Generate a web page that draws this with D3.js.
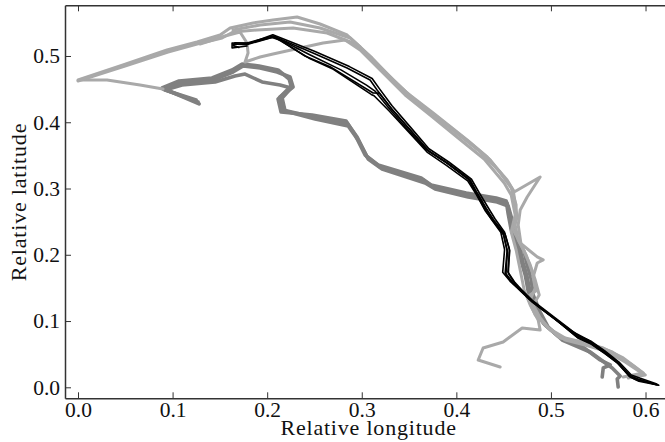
<!DOCTYPE html>
<html>
<head>
<meta charset="utf-8">
<script src="https://cdn.jsdelivr.net/npm/d3@7"></script>
<style>
  body { margin: 0; background: white; }
  svg { display: block; }
</style>
</head>
<body>
<svg id="trackSVG" width="665" height="442"></svg>
<script>
// tick values
var xTicks = [0.0, 0.1, 0.2, 0.3, 0.4, 0.5, 0.6];
var yTicks = [0.0, 0.1, 0.2, 0.3, 0.4, 0.5];

// light gray tracks [lon, lat]
var lightTrack1 = [[0.0899,0.4502],[0.0656,0.4562],[0.0307,0.4638],[0.0000,0.4638],[0.0476,0.4864],[0.0941,0.5091],[0.1259,0.5211],[0.1502,0.5317],[0.1608,0.5423],[0.1851,0.5499],[0.2062,0.5544],[0.2316,0.5589],[0.2559,0.5483],[0.2845,0.5317],[0.2983,0.5136],[0.3194,0.4834],[0.3480,0.4441],[0.3755,0.4140],[0.4114,0.3732],[0.4326,0.3476],[0.4537,0.3129],[0.4601,0.2978],[0.4643,0.2570],[0.4601,0.2374],[0.4675,0.2178],[0.4855,0.1967],[0.4918,0.1922],[0.4855,0.1876],[0.4812,0.1665],[0.4855,0.1468],[0.4749,0.1363],[0.4834,0.1091],[0.4939,0.0940],[0.5098,0.0744],[0.5309,0.0684],[0.5553,0.0593],[0.5764,0.0443],[0.5976,0.0217],[0.5764,0.0156]];
var lightTrack2 = [[0.0000,0.4623],[0.0497,0.4849],[0.0952,0.5060],[0.1259,0.5181],[0.1523,0.5272],[0.1639,0.5362],[0.1893,0.5392],[0.2274,0.5423],[0.2634,0.5347],[0.2908,0.5196],[0.3035,0.5060],[0.3226,0.4789],[0.3511,0.4381],[0.3797,0.4079],[0.4146,0.3687],[0.4358,0.3431],[0.4558,0.3069],[0.4611,0.2948],[0.4886,0.3174],[0.4749,0.2872],[0.4675,0.2676],[0.4654,0.2450],[0.4685,0.2148],[0.4781,0.1846],[0.4834,0.1619],[0.4876,0.1393],[0.4812,0.1242],[0.4886,0.1046],[0.4992,0.0865],[0.5151,0.0714],[0.5362,0.0638],[0.5574,0.0548],[0.5785,0.0382],[0.5944,0.0231]];
var lightTrack3 = [[0.1290,0.5181],[0.1554,0.5302],[0.1713,0.5362],[0.1787,0.5196],[0.1798,0.5045],[0.1766,0.4909],[0.1925,0.4985],[0.2062,0.5030],[0.2348,0.5121],[0.2591,0.5196],[0.2824,0.5242],[0.2983,0.5091],[0.3173,0.4819],[0.3459,0.4411],[0.3723,0.4110],[0.4072,0.3702],[0.4294,0.3446],[0.4506,0.3084],[0.4580,0.2903],[0.4622,0.2601],[0.4580,0.2344],[0.4632,0.2072],[0.4675,0.1770],[0.4717,0.1468],[0.4781,0.1242],[0.4865,0.1016],[0.4886,0.0865],[0.4696,0.0895],[0.4495,0.0684],[0.4283,0.0593],[0.4231,0.0412],[0.4463,0.0307]];
var lightTrack4 = [[0.1639,0.5392],[0.1925,0.5468],[0.2242,0.5513],[0.2559,0.5423],[0.2877,0.5272],[0.3109,0.4970],[0.3353,0.4608],[0.3617,0.4261],[0.3934,0.3913],[0.4231,0.3581],[0.4442,0.3280],[0.4580,0.3009],[0.4632,0.2752],[0.4622,0.2450],[0.4654,0.2223],[0.4738,0.1997],[0.4802,0.1740],[0.4834,0.1499],[0.4781,0.1318],[0.4855,0.1091],[0.4971,0.0895],[0.5151,0.0744],[0.5415,0.0653],[0.5648,0.0533],[0.5859,0.0337],[0.5997,0.0186],[0.5817,0.0141]];

// medium gray tracks
var grayTrack1 = [[0.1269,0.4306],[0.0899,0.4502],[0.1079,0.4592],[0.1428,0.4638],[0.1639,0.4759],[0.1745,0.4849],[0.1925,0.4819],[0.2105,0.4759],[0.2242,0.4683],[0.2274,0.4532],[0.2136,0.4381],[0.2168,0.4185],[0.2485,0.4079],[0.2845,0.3989],[0.2951,0.3778],[0.3057,0.3476],[0.3194,0.3325],[0.3649,0.3129],[0.3755,0.3023],[0.4114,0.2902],[0.4432,0.2827],[0.4537,0.2781],[0.4569,0.2570],[0.4601,0.2329],[0.4675,0.2072],[0.4707,0.1876],[0.4749,0.1665],[0.4781,0.1423],[0.4855,0.1167],[0.4939,0.0940],[0.5098,0.0744]];
var grayTrack2 = [[0.1248,0.4336],[0.0920,0.4487],[0.1100,0.4562],[0.1449,0.4608],[0.1660,0.4698],[0.1766,0.4728],[0.1946,0.4608],[0.2136,0.4562],[0.2253,0.4517],[0.2158,0.4366],[0.2189,0.4170],[0.2507,0.4049],[0.2856,0.3944],[0.2961,0.3733],[0.3067,0.3446],[0.3215,0.3295],[0.3670,0.3084],[0.3776,0.2993],[0.4125,0.2872],[0.4432,0.2797],[0.4548,0.2736],[0.4590,0.2525],[0.4632,0.2283],[0.4717,0.2042],[0.4749,0.1846],[0.4791,0.1635],[0.4812,0.1393],[0.4886,0.1136],[0.4971,0.0910],[0.5119,0.0714],[0.5415,0.0533],[0.5648,0.0291],[0.5732,0.0171],[0.5701,0.0125],[0.5711,0.0005]];
var grayTrack3 = [[0.1280,0.4276],[0.0888,0.4517],[0.1068,0.4623],[0.1417,0.4668],[0.1629,0.4789],[0.1735,0.4879],[0.1914,0.4849],[0.2115,0.4789],[0.2232,0.4653],[0.2253,0.4547],[0.2115,0.4351],[0.2147,0.4155],[0.2475,0.4110],[0.2834,0.4020],[0.2930,0.3808],[0.3035,0.3506],[0.3173,0.3355],[0.3628,0.3159],[0.3733,0.3054],[0.4104,0.2932],[0.4421,0.2857],[0.4527,0.2812],[0.4548,0.2616],[0.4580,0.2374],[0.4654,0.2102],[0.4685,0.1906],[0.4728,0.1695],[0.4759,0.1453],[0.4834,0.1197],[0.4918,0.0970],[0.5077,0.0774],[0.5309,0.0638],[0.5521,0.0412],[0.5627,0.0337],[0.5553,0.0292],[0.5542,0.0156]];

// black tracks
var blackTrack1 = [[0.1787,0.5151],[0.1629,0.5121],[0.1629,0.5196],[0.1787,0.5196],[0.2062,0.5302],[0.2485,0.5045],[0.2845,0.4819],[0.3088,0.4638],[0.3162,0.4487],[0.3300,0.4230],[0.3511,0.3883],[0.3691,0.3581],[0.3903,0.3385],[0.4146,0.3129],[0.4220,0.2932],[0.4326,0.2676],[0.4389,0.2525],[0.4495,0.2329],[0.4537,0.2072],[0.4516,0.1725],[0.4601,0.1574],[0.4675,0.1468],[0.4781,0.1318],[0.4992,0.1091],[0.5278,0.0759],[0.5415,0.0669],[0.5553,0.0533],[0.5701,0.0367],[0.5838,0.0155],[0.5912,0.0110],[0.6134,0.0035]];
var blackTrack2 = [[0.1650,0.5150],[0.1640,0.5180],[0.1780,0.5170],[0.2050,0.5280],[0.2136,0.5241],[0.2400,0.5000],[0.2665,0.4839],[0.3120,0.4441],[0.3185,0.4440],[0.3318,0.4195],[0.3528,0.3860],[0.3708,0.3568],[0.3918,0.3368],[0.4135,0.3130],[0.4212,0.2945],[0.4316,0.2690],[0.4400,0.2515],[0.4515,0.2310],[0.4565,0.2060],[0.4545,0.1740],[0.4620,0.1580],[0.4688,0.1475],[0.4800,0.1315],[0.5010,0.1085],[0.5290,0.0780],[0.5430,0.0690],[0.5570,0.0550],[0.5720,0.0380],[0.5850,0.0185],[0.5945,0.0135],[0.6120,0.0050]];
var blackTrack3 = [[0.1700,0.5130],[0.1640,0.5160],[0.1660,0.5200],[0.1800,0.5190],[0.2080,0.5290],[0.2450,0.5020],[0.2780,0.4790],[0.3050,0.4560],[0.3140,0.4470],[0.3285,0.4215],[0.3495,0.3875],[0.3678,0.3590],[0.3890,0.3395],[0.4125,0.3145],[0.4200,0.2955],[0.4300,0.2690],[0.4370,0.2535],[0.4470,0.2340],[0.4510,0.2080],[0.4490,0.1735],[0.4575,0.1590],[0.4660,0.1490],[0.4765,0.1340],[0.4970,0.1110],[0.5240,0.0830],[0.5390,0.0720],[0.5540,0.0570],[0.5690,0.0400],[0.5820,0.0190],[0.5905,0.0130],[0.6090,0.0055]];
var blackTrack4 = [[0.1790,0.5180],[0.2060,0.5320],[0.2500,0.5070],[0.2870,0.4840],[0.3110,0.4660],[0.3190,0.4500],[0.3320,0.4250],[0.3530,0.3900],[0.3710,0.3600],[0.3920,0.3400],[0.4160,0.3140],[0.4240,0.2940],[0.4350,0.2680],[0.4410,0.2540],[0.4510,0.2340],[0.4560,0.2090],[0.4550,0.1720],[0.4620,0.1560],[0.4700,0.1450],[0.4800,0.1300],[0.5010,0.1070],[0.5290,0.0740],[0.5430,0.0650],[0.5570,0.0510],[0.5720,0.0350],[0.5860,0.0140],[0.5930,0.0090],[0.6140,0.0030]];
var blackTrack5 = [[0.2062,0.5290],[0.2150,0.5220],[0.2450,0.4960],[0.2700,0.4800],[0.3100,0.4420],[0.3130,0.4400],[0.3290,0.4170],[0.3505,0.3840],[0.3690,0.3550],[0.3895,0.3350],[0.4120,0.3115],[0.4205,0.2925],[0.4305,0.2665],[0.4395,0.2500],[0.4500,0.2300],[0.4540,0.2040],[0.4525,0.1710],[0.4600,0.1560],[0.4680,0.1450],[0.4795,0.1295],[0.5005,0.1065],[0.5280,0.0775],[0.5420,0.0680],[0.5560,0.0545],[0.5705,0.0375],[0.5830,0.0165],[0.5925,0.0120],[0.6115,0.0040]];

var groups = [
  { color: "#808080", width: 3.6, tracks: [grayTrack1, grayTrack2, grayTrack3] },
  { color: "#a9a9a9", width: 3, tracks: [lightTrack1, lightTrack2, lightTrack3, lightTrack4] },
  { color: "#000000", width: 1.6, tracks: [blackTrack1, blackTrack2, blackTrack3, blackTrack4, blackTrack5] }
];

var svg = d3.select('#trackSVG');
var margin = { left: 65, top: 5.3, right: -7, bottom: 43.7 };
var width = 665, height = 442;
var innerWidth = width - margin.left - margin.right;
var innerHeight = height - margin.top - margin.bottom;
var font = '"Liberation Serif", "Times New Roman", serif';

var xScale = d3.scaleLinear()
    .domain([-0.01375, 0.628])
    .range([0, innerWidth]);
var yScale = d3.scaleLinear()
    .domain([-0.0166, 0.5765])
    .range([innerHeight, 0]);

var g = svg.append('g')
    .attr('transform', `translate(${margin.left}, ${margin.top})`);

g.append('clipPath').attr('id', 'plotClip')
  .append('rect')
    .attr('width', innerWidth)
    .attr('height', innerHeight);

var line = d3.line()
    .x(d => xScale(d[0]))
    .y(d => yScale(d[1]));

var plot = g.append('g').attr('clip-path', 'url(#plotClip)');
groups.forEach(grp => {
    grp.tracks.forEach(t => {
        plot.append('path')
            .datum(t)
            .attr('d', line)
            .style('fill', 'none')
            .style('stroke', grp.color)
            .style('stroke-width', grp.width)
            .style('stroke-linejoin', 'round')
            .style('stroke-linecap', 'round');
    });
});

// axes, ticks pointing inward
var fmt = d3.format('.1f');
var xAxis = g.append('g')
    .attr('transform', `translate(0,${innerHeight})`)
    .call(d3.axisBottom(xScale).tickValues(xTicks).tickFormat(fmt).tickSizeInner(-6).tickSizeOuter(0).tickPadding(3));
var yAxis = g.append('g')
    .call(d3.axisLeft(yScale).tickValues(yTicks).tickFormat(fmt).tickSizeInner(-6).tickSizeOuter(0).tickPadding(5));
var topAxis = g.append('g')
    .call(d3.axisTop(xScale).tickValues(xTicks).tickSizeInner(-6).tickSizeOuter(0));
var rightAxis = g.append('g')
    .attr('transform', `translate(${innerWidth},0)`)
    .call(d3.axisRight(yScale).tickValues(yTicks).tickSizeInner(-6).tickSizeOuter(0));
topAxis.selectAll('.tick text').remove();
rightAxis.selectAll('.tick text').remove();

[xAxis, yAxis, topAxis, rightAxis].forEach(a => {
    a.select('.domain').style('stroke', '#333').style('stroke-width', 1.5);
    a.selectAll('.tick line').style('stroke', '#333').style('stroke-width', 1);
    a.selectAll('.tick text')
        .style('font-family', font)
        .style('font-size', '21.5px')
        .style('fill', '#111');
});

svg.append('text')
    .attr('x', 368.6)
    .attr('y', 435)
    .attr('text-anchor', 'middle')
    .style('font-family', font)
    .style('font-size', '22px')
    .style('letter-spacing', '0.8px')
    .style('fill', '#111')
    .text('Relative longitude');

svg.append('text')
    .attr('transform', 'translate(26, 202) rotate(-90)')
    .attr('text-anchor', 'middle')
    .style('font-family', font)
    .style('font-size', '22px')
    .style('letter-spacing', '0.8px')
    .style('fill', '#111')
    .text('Relative latitude');
</script>
</body>
</html>
